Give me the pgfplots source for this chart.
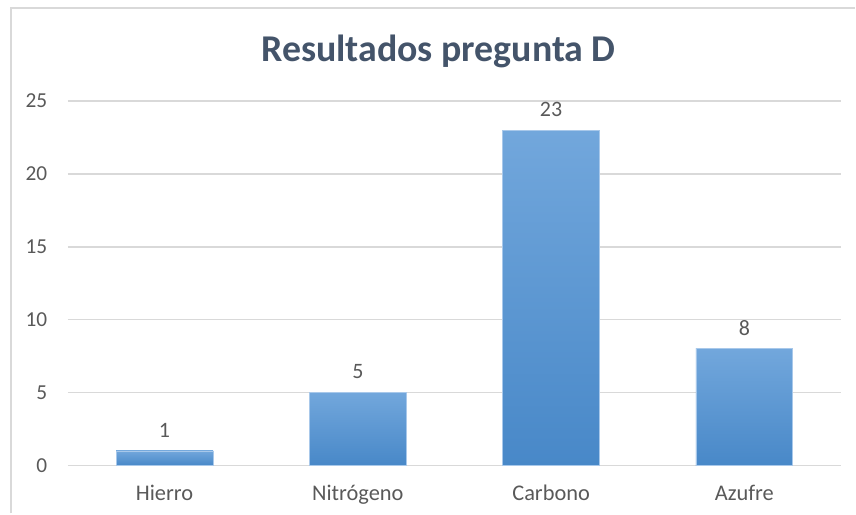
\documentclass[border=0pt]{standalone}
\usepackage{pgfplots}
\pgfplotsset{compat=1.18}
\usepackage{fontspec}
\setmainfont{Carlito}
\definecolor{gridc}{HTML}{D9D9D9}
\definecolor{titlec}{HTML}{44546A}
\definecolor{tickc}{HTML}{595959}
\definecolor{bartop}{HTML}{72A7DC}
\definecolor{barmid}{HTML}{5B9BDB}
\definecolor{barbot}{HTML}{4888C8}
\definecolor{baredge}{HTML}{A8C8EA}
\pgfplotsset{mybar/.style={ybar, bar shift=0pt, bar width=72.75pt, draw=baredge, line width=0.5pt,
    top color=bartop, middle color=barmid, bottom color=barbot,
    nodes near coords,
    every node near coord/.append style={font=\fontsize{16.5}{18}\selectfont, text=tickc, yshift=6.5pt}}}
\begin{document}
\begin{tikzpicture}[x=0.75pt,y=0.75pt]
\path (0,0) rectangle (856,514);
\draw[gridc, line width=1.5pt] (11,0) -- (11,506) -- (856,506);
\node[font=\bfseries\fontsize{28.4}{32}\selectfont, text=titlec] at (439,463) {Resultados pregunta D};
\begin{axis}[
  at={(68pt*0.75,48pt*0.75)}, anchor=south west,
  scale only axis, width=580.5pt, height=273.75pt,
  xmin=-0.5, xmax=3.5, ymin=0, ymax=25,
  ytick={0,5,...,25},
  xtick={0,1,2,3},
  xticklabels={Hierro,Nitrógeno,Carbono,Azufre},
  axis line style={draw=none},
  major tick style={draw=none},
  ymajorgrids, grid style={gridc, line width=1.2pt},
  tick label style={font=\fontsize{16}{18}\selectfont, text=tickc},
  xticklabel style={font=\fontsize{16.8}{18}\selectfont, yshift=-11pt},
  /pgf/number format/assume math mode=true,
  yticklabel style={xshift=-12pt},
  clip=false,
]
\addplot[mybar] coordinates {(0,1)};
\addplot[mybar] coordinates {(1,5)};
\addplot[mybar] coordinates {(2,23)};
\addplot[mybar] coordinates {(3,8)};
\end{axis}
\end{tikzpicture}
\end{document}
